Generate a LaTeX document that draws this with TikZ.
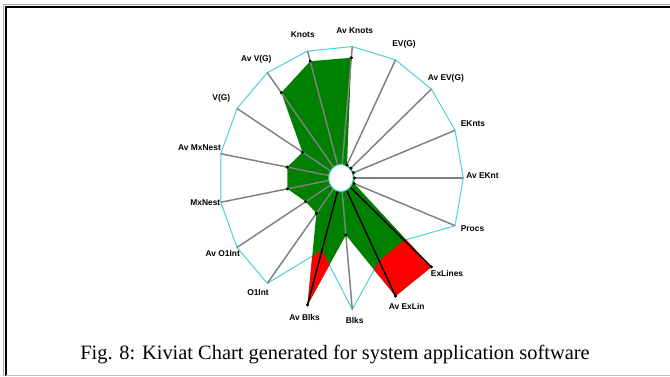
\documentclass[tikz,border=0pt]{standalone}
\usepackage{fontspec}
\setmainfont{Liberation Serif}
\newfontfamily\lblfont{Liberation Sans}
\definecolor{kgreen}{RGB}{0,128,0}
\definecolor{kred}{RGB}{255,0,0}
\definecolor{kcyan}{RGB}{72,212,212}
\definecolor{kgray}{RGB}{128,128,128}
\begin{document}
\begin{tikzpicture}[x=0.75pt,y=-0.75pt,
  axisline/.style={draw=kgray,line width=1.1pt},
  overline/.style={draw=black,line width=1.1pt},
  limitline/.style={draw=kcyan,line width=0.75pt},
  lbl/.style={font=\lblfont\bfseries\fontsize{6.3}{7}\selectfont,inner sep=0pt},
  captext/.style={font=\fontsize{15.3}{17}\selectfont,inner sep=0pt},
  dotmark/.style={fill=black}]
\useasboundingbox (0,0) rectangle (670,376);
\fill[white] (0,0) rectangle (670,376);
% frame
\draw[gray!70,line width=0.75pt] (3.5,376) -- (3.5,4.5) -- (670,4.5);
\draw[black,line width=1.5pt] (5.5,376) -- (5.5,6.5) -- (670,6.5);
\draw[gray!50,line width=0.9pt] (5.5,375.3) -- (670,375.3);
% coordinates
\foreach \k/\v/\m in {0/0.915/1,1/0.11/1,2/0.11/1,3/0.11/1,4/0.11/1,5/0.115/1,6/1/0.70,7/1/0.70,8/0.434/1,9/1/0.57,10/0.334/1,11/0.34/1,12/0.446/1,13/0.447/1,14/0.371/1,15/0.81/1,16/0.92/1}{
  \pgfmathsetmacro\a{5.294+\k*21.1765}
  \pgfmathsetmacro\sx{sin(\a)}
  \pgfmathsetmacro\sy{cos(\a)}
  \coordinate (e\k) at ({341+122.3*\sx},{178-132*\sy});
  \coordinate (s\k) at ({341+12.4*\sx},{178-13.6*\sy});
  \coordinate (d\k) at ({341+122.3*\v*\sx},{178-132*\v*\sy});
  \coordinate (m\k) at ({341+122.3*\m*\sx},{178-132*\m*\sy});
}
% limit polygon
\draw[limitline] (m0)--(m1)--(m2)--(m3)--(m4)--(m5)--(m6)--(m7)--(m8)--(m9)--(m10)--(m11)--(m12)--(m13)--(m14)--(m15)--(m16)--cycle;
% data polygon
\fill[kgreen] (d0)--(d1)--(d2)--(d3)--(d4)--(d5)--(d6)--(d7)--(d8)--(d9)--(d10)--(d11)--(d12)--(d13)--(d14)--(d15)--(d16)--cycle;
\begin{scope}
  \clip (d0)--(d1)--(d2)--(d3)--(d4)--(d5)--(d6)--(d7)--(d8)--(d9)--(d10)--(d11)--(d12)--(d13)--(d14)--(d15)--(d16)--cycle;
  \fill[kred,even odd rule] (0,0) rectangle (670,376)
    (m0)--(m1)--(m2)--(m3)--(m4)--(m5)--(m6)--(m7)--(m8)--(m9)--(m10)--(m11)--(m12)--(m13)--(m14)--(m15)--(m16)--cycle;
\end{scope}
% axes
\foreach \k in {0,1,2,3,4,5,8,10,11,12,13,14,15,16}{
  \draw[axisline] (s\k) -- (e\k);
}
\foreach \k in {6,7,9}{
  \draw[overline] (s\k) -- (d\k);
}
% inner circle
\draw[limitline,fill=white] (341,178) ellipse [x radius=12.2, y radius=13.6];
% data dots
\foreach \k in {0,...,16}{
  \fill[dotmark] (d\k) circle [radius=1.7];
}
% labels
\node[lbl] (lab0) at (354.7,30.7) {Av Knots};
\node[lbl] (lab1) at (404,44.7) {EV(G)};
\node[lbl] (lab2) at (445.8,78.3) {Av EV(G)};
\node[lbl] (lab3) at (473,123.3) {EKnts};
\node[lbl] (lab4) at (482.5,175.5) {Av EKnt};
\node[lbl] (lab5) at (472.5,228.3) {Procs};
\node[lbl] (lab6) at (447,273.7) {ExLines};
\node[lbl] (lab7) at (406.7,306.7) {Av ExLin};
\node[lbl] (lab8) at (354.7,320.7) {Blks};
\node[lbl] (lab9) at (304.5,317.3) {Av Blks};
\node[lbl] (lab10) at (258,293) {O1Int};
\node[lbl] (lab11) at (222.8,253.3) {Av O1Int};
\node[lbl] (lab12) at (205.3,202.3) {MxNest};
\node[lbl] (lab13) at (199.5,148) {Av MxNest};
\node[lbl] (lab14) at (221.3,98.3) {V(G)};
\node[lbl] (lab15) at (256.3,59.3) {Av V(G)};
\node[lbl] (lab16) at (302.8,35) {Knots};
% caption
\node[captext] (cap) at (335,355) {Fig. 8: Kiviat Chart generated for system application software};
\end{tikzpicture}
\end{document}
